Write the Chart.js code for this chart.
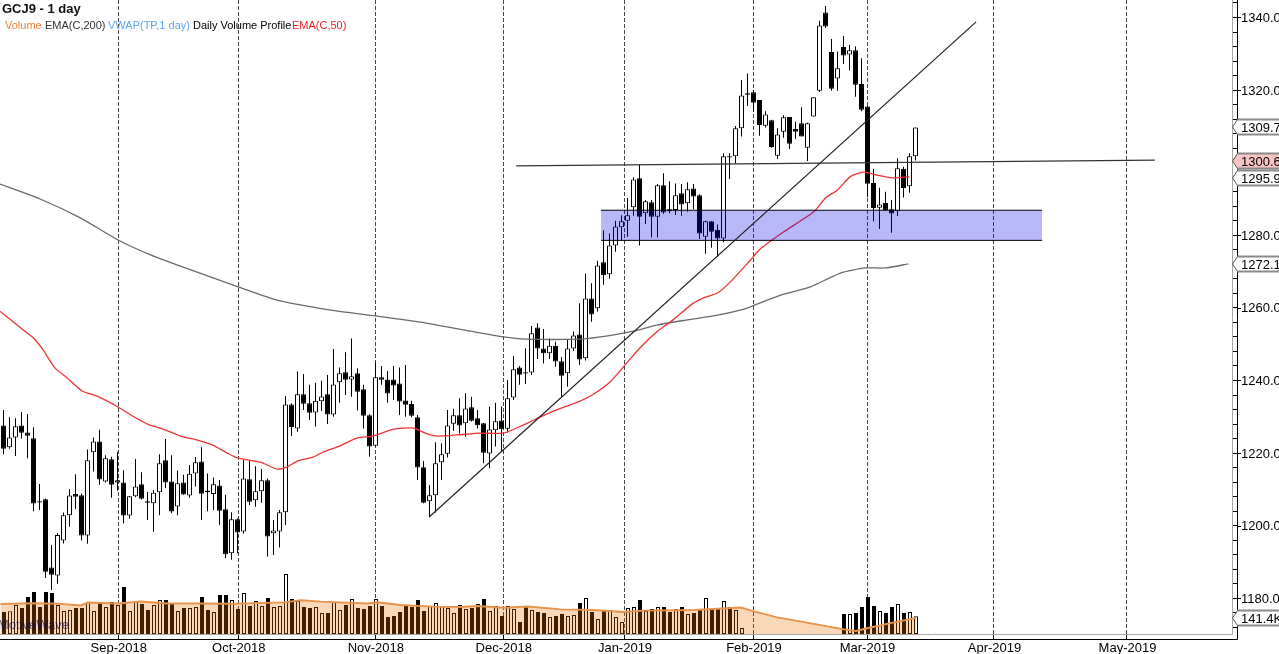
<!DOCTYPE html>
<html><head><meta charset="utf-8">
<style>html,body{margin:0;padding:0;background:#fff;overflow:hidden}canvas{display:block}</style>
<script src="https://cdn.jsdelivr.net/npm/chart.js@4"></script>
</head><body><canvas id="c" width="1279" height="654"></canvas>
<script>
const opens=[1227.6,1221.6,1224.3,1227.6,1225.7,1224.1,1206.7,1207.3,1188.5,1186.3,1195.9,1202.9,1208.7,1208.4,1197.3,1220.2,1223.2,1212.2,1218.3,1211.9,1211.9,1202.8,1208.1,1211.4,1206.7,1206.2,1209.2,1218,1212.2,1205.3,1211.9,1208.3,1214.4,1217.7,1209.7,1208.7,1211.1,1204.5,1192.4,1201.8,1198.4,1212.8,1207,1209.5,1212.5,1197.9,1198.4,1203.7,1233.4,1226.8,1236.2,1233.7,1231.2,1234.3,1236.2,1230.6,1239.5,1242.3,1240.3,1242,1237.6,1230.4,1222,1240.9,1240.3,1240.3,1239.2,1234.5,1233.5,1229.9,1216.1,1206.7,1208.4,1217.5,1219.8,1228.1,1230.4,1228.2,1232.6,1229.6,1228.2,1219.9,1226.3,1229,1226.7,1235.3,1243.6,1242.3,1242.2,1254.6,1248.8,1247.5,1249.6,1245.3,1242,1248.8,1252.7,1246.1,1262.6,1259.9,1272.6,1269.3,1277.2,1282.2,1284,1287.7,1295.7,1286.1,1289.1,1285.1,1293.8,1287.2,1287,1291.6,1288.8,1292.9,1291,1279.6,1283.9,1281.5,1279.1,1301.8,1301.8,1309.5,1319.1,1319.4,1317.3,1310.2,1311.7,1301.9,1308.5,1312.6,1309.3,1310.9,1304.1,1312.7,1319.8,1341.4,1330.5,1323.2,1331.9,1329.8,1331,1321.7,1315.5,1294.4,1287.6,1288.9,1287.2,1286.6,1298.3,1293.5,1301.8];
const highs=[1231.9,1229.9,1229.6,1231.3,1230.8,1227.1,1211.5,1207.5,1194.7,1198,1203.6,1210.1,1214.2,1208.9,1221,1224.3,1226.4,1219.4,1219,1220.4,1215.3,1208.2,1218.4,1214.7,1209.3,1209.8,1219.7,1223.9,1219.4,1215.2,1214,1216.7,1218.9,1221.6,1214.4,1213.3,1212.6,1208.5,1203.7,1202,1218.1,1217.9,1216.4,1215.6,1213,1201.6,1204.3,1235.7,1233.7,1242.5,1241.8,1238.8,1239.4,1239.9,1241.5,1248.7,1243.6,1247.8,1251.6,1243.4,1238.8,1230.7,1245,1244,1242.6,1244,1243.6,1244.3,1234.4,1230.5,1217.8,1211.2,1223,1222.7,1231.9,1232.2,1235.1,1236.5,1235.5,1231.9,1228.2,1232.8,1233.9,1232.8,1240.1,1246.8,1244,1248.9,1255,1255.8,1254.2,1251.6,1250.7,1246.5,1251.4,1253.5,1261.3,1269.5,1266.8,1273,1281.4,1280.5,1284,1285.5,1290.3,1296,1299.6,1289.7,1289.7,1294.1,1297.1,1294.9,1294.3,1294.1,1294.6,1294.1,1291.3,1284,1283.9,1283,1302.6,1302.6,1310.1,1322.8,1324.6,1320,1317.3,1314.2,1311.8,1309.5,1313.1,1312.6,1311.3,1315.3,1311,1318,1339.1,1343.2,1334.1,1330.6,1334.9,1332.4,1332.1,1328.8,1315.6,1298.3,1293.1,1292,1289.7,1301.2,1298.9,1302.6,1309.7];
const lows=[1219.7,1221.2,1219.2,1224,1218.6,1204,1204.3,1185.6,1182.3,1184,1195.1,1199.7,1204.6,1195.9,1195,1214.9,1211.3,1211.9,1207.7,1209.6,1200.6,1201.9,1207.8,1207.2,1201.6,1198.3,1202.9,1210.4,1203.4,1202.9,1208.5,1207.7,1210.8,1201.6,1204,1204.3,1200.2,1191,1190.6,1192.4,1197.8,1205.7,1205.2,1206.3,1191.5,1191.9,1194,1200.2,1224.7,1225.9,1231.9,1229.1,1227.3,1231.6,1228,1230,1233.9,1236,1235.5,1231.7,1226.8,1219,1221.8,1238.8,1233.9,1234.6,1230.5,1230,1229.9,1212.6,1206.2,1202.3,1203.6,1212.6,1218.8,1226.1,1225.4,1224.5,1228.7,1226.8,1217.2,1215.8,1221.8,1220.4,1225.6,1234.6,1238.8,1239,1241.5,1245.9,1244.7,1245.9,1243.8,1235.5,1238.3,1248.1,1244.3,1245.5,1256.2,1259,1266.4,1268,1275.5,1278.5,1279.6,1285.4,1277.2,1283.1,1279.4,1279.4,1285.9,1286.1,1285.6,1285.4,1286.5,1287.2,1279,1274.9,1276.6,1274.1,1278.1,1295.5,1299.8,1307.2,1315.6,1314.1,1307.4,1309.7,1304.1,1301,1306.9,1303.8,1306.5,1307.2,1300.5,1312.7,1319.5,1337.1,1319.8,1319.8,1327.2,1325.4,1318.2,1314.2,1290.5,1283.8,1281.7,1286.8,1280.7,1285.3,1290.4,1291.7,1300.6];
const closes=[1221.2,1224.3,1227.4,1225.6,1224.8,1206.1,1206.4,1187.3,1186.5,1197.4,1202.9,1208.3,1208,1197.3,1218,1223.2,1212.7,1218.6,1211.3,1212.5,1202.8,1208.1,1210.8,1207.4,1206.3,1209.1,1217.2,1211.9,1203.9,1211.7,1208.6,1214.3,1217.5,1208.8,1209.2,1211.4,1204.1,1192.1,1201.8,1198.1,1213,1206.6,1209.5,1212.5,1197,1198.7,1203.7,1233.4,1227.2,1236.2,1233.6,1231.1,1234.4,1235.6,1230.6,1238.9,1242,1240.2,1241.2,1236.9,1230.3,1221.8,1240.9,1240.2,1236.4,1238.6,1234.2,1233.3,1230.3,1216,1206.3,1208.4,1217.2,1219.7,1227.6,1230.4,1227.6,1232.3,1228.9,1227.7,1220.1,1226.5,1228.8,1226.6,1235.1,1243.1,1241.6,1241.9,1253,1248.8,1247.5,1249.6,1245.2,1241.3,1248.8,1252.4,1245.8,1262.6,1258.2,1271.7,1269,1277.2,1282.4,1283.9,1285.5,1295.4,1285.1,1289.4,1285.1,1293.8,1286.3,1286.6,1291,1288.5,1292.7,1290.7,1280.5,1283.9,1281,1279.1,1301.8,1301.4,1309.5,1318.5,1318.7,1316.5,1310.4,1313.3,1304.3,1307.8,1312.5,1305.2,1308.5,1307.2,1310.9,1318,1337.8,1337.5,1320.4,1326,1329.5,1331,1321.5,1314.6,1294.2,1287.5,1288.5,1287,1286,1298.5,1293,1301.8,1309.7];
const volumes=[176,182,232,208,296,336,216,336,328,232,184,192,208,208,256,184,248,216,256,232,376,184,256,240,192,232,272,272,248,184,208,208,216,296,192,176,312,312,272,200,328,224,264,224,288,216,224,480,280,264,216,208,216,168,168,256,192,232,280,208,200,224,280,224,136,144,176,232,216,272,184,224,248,224,208,168,232,200,208,240,280,184,224,144,224,200,96,224,192,176,168,136,144,160,144,152,248,288,176,120,184,192,136,96,208,216,272,184,200,216,216,176,200,216,160,168,192,288,192,200,264,216,192,48,null,null,null,null,null,null,null,null,null,null,null,null,null,null,null,null,160,160,168,216,296,224,184,168,216,240,168,176,141.4];
const ema50Bars=[-0.6,3.3,5,6.6,8.6,10.6,13.1,15.6,19.1,21.5,24,26.6,29.5,32.3,34.9,37.3,39.1,42.8,45.6,47.3,49,51.6,53.3,56.1,59,61.6,65,68.3,70.6,72.3,75.6,79.4,83.3,86.6,89.5,92.5,95.8,98.1,101.1,103.6,106.1,108.9,111.6,114.8,116.6,119,121.1,124.5,126.1,130,135,137,139,141.1,143.3,145.6,148.3,151];
const ema50Values=[1259.1,1253.9,1251.7,1248.4,1243.4,1240.7,1237.1,1235.7,1232.7,1230.2,1228,1226.6,1224.7,1223.6,1222.2,1220,1218.6,1217.5,1215.6,1216.2,1217.8,1218.9,1220.3,1222,1224.2,1224.7,1226.6,1226.9,1225.3,1224.7,1225,1225.5,1225.5,1227.7,1230,1232.1,1234.1,1236,1239.6,1244.3,1249,1253.4,1256.7,1261.1,1262.7,1264.1,1267.1,1273.2,1276.2,1280.9,1286.4,1290.3,1292.5,1296.1,1297.4,1296.6,1295.8,1296.1];
const ema200Bars=[-0.6,6.1,12.8,19.1,24.5,30.3,39.1,46.1,54.5,62,69.5,77.8,83.3,87,96.1,99.5,105,109,114,119,122.8,124.5,129.5,134.5,139.5,143.6,147,150.8];
const ema200Values=[1294.1,1290,1284.8,1278.7,1274.6,1271,1265.8,1261.9,1259.4,1257.8,1256.1,1253.6,1252,1251.4,1251.4,1252,1253.6,1255.3,1256.7,1258,1259.4,1260.3,1263.5,1265.8,1269.6,1271,1271,1272.1];
const volEmaBars=[-0.6,5,8.9,12.8,14,19,22.8,27.2,32.8,38.3,46.6,49.5,52.8,60.6,62.2,66.1,71.6,76.1,78.9,83.3,87.3,92.8,98.3,103.3,106.6,115,122.8,125,128.9,134.5,140,142,144,148.3,152];
const volEmaValues=[240,245,243,229,251,245,259,245,245,243,253,269,259,245,253,232,219,216,224,211,219,197,192,176,187,192,211,181,133,85,37,24,48,93,128];
const trendBars=[70.95,162.1];
const trendValues=[1202.4,1338.8];
const levelBars=[85.45,191.9];
const levelValues=[1299.1,1300.7];
const zoneBars=[99.6,173.1];
const zoneTop=1286.9;
const zoneBottom=1278.6;
const monthBars=[19.13,39.13,61.97,83.3,103.5,125,143.92,165.08,187.25];
const monthLabels=['Sep-2018','Oct-2018','Nov-2018','Dec-2018','Jan-2019','Feb-2019','Mar-2019','Apr-2019','May-2019'];
const priceTags=[['1309.7',1309.7,'#fff'],['1295.9',1295.9,'#fff'],['1272.1',1272.1,'#fff'],['1300.6',1300.6,'#f9c4c4']];
const volTag=['141.4K',1174.6,'#fff'];
const legendItems=[['Volume','#f0823c',5],['EMA(C,200)','#333',45],['VWAP(TP,1 day)','#5aa6f2',108],['Daily Volume Profile','#000',193],['EMA(C,50)','#f01e1e',292]];

const line=(xs,ys)=>xs.map((x,i)=>({x,y:ys[i]}));
const up=i=>closes[i]>=opens[i];
const isBlack=opens.map((o,i)=>!up(i));
const FONT='"Liberation Sans", Arial, sans-serif';

const overlay={id:'overlay',
 afterDatasetsDraw(ch){
  const c=ch.ctx;c.save();
  c.font='13px '+FONT;c.fillStyle='rgba(0,0,90,.6)';c.textBaseline='middle';c.textAlign='left';
  c.fillText('MotiveWave',-2,625);
  c.restore();
 },
 afterDraw(ch){
  const c=ch.ctx,y=ch.scales.y;const right=ch.chartArea.right,bottom=ch.chartArea.bottom;
  c.save();
  c.strokeStyle='#000';c.lineWidth=1;c.beginPath();
  c.moveTo(0,bottom+5.5);c.lineTo(right+5.5,bottom+5.5);
  c.moveTo(right+5.5,0);c.lineTo(right+5.5,bottom+5.5);
  y.ticks.forEach(t=>{if(t.value%20===0){const p=Math.round(y.getPixelForValue(t.value))+.5;c.moveTo(right+5,p);c.lineTo(right+9,p);}});
  c.stroke();
  const tag=(txt,py,fill)=>{
   const x=right+.5,h=7.5;
   c.beginPath();c.moveTo(x,py);c.lineTo(x+5,py-h);c.lineTo(1279,py-h);c.lineTo(1279,py+h);c.lineTo(x+5,py+h);c.closePath();
   c.fillStyle=fill;c.fill();
   c.strokeStyle='#555';c.lineWidth=1;c.beginPath();c.moveTo(x+5,py+h);c.lineTo(x,py);c.lineTo(x+5,py-h);c.stroke();
   c.strokeStyle='#8a8a8a';c.lineWidth=2;c.beginPath();c.moveTo(x+5,py-h);c.lineTo(1279,py-h);c.moveTo(x+5,py+h);c.lineTo(1279,py+h);c.stroke();
   c.fillStyle='#000';c.font='13px '+FONT;c.textAlign='left';c.textBaseline='middle';c.fillText(txt,right+9,py+1);
  };
  priceTags.forEach(t=>tag(t[0],Math.round(y.getPixelForValue(t[1])),t[2]));
  tag(volTag[0],Math.round(y.getPixelForValue(volTag[1])),volTag[2]);
  c.textBaseline='middle';c.textAlign='left';
  c.font='bold 13px '+FONT;c.fillStyle='#111';c.fillText('GCJ9 - 1 day',2,9);
  c.font='11px '+FONT;
  legendItems.forEach(l=>{c.fillStyle=l[1];c.fillText(l[0],l[2],25.5);});
  c.restore();
 }};

new Chart(document.getElementById('c'),{
 type:'bar',
 plugins:[overlay],
 data:{datasets:[
  {type:'line',order:1,data:line(trendBars,trendValues),borderColor:'#222',borderWidth:1.2,pointRadius:0},
  {type:'line',order:2,data:line(levelBars,levelValues),borderColor:'#333',borderWidth:1.2,pointRadius:0},
  {type:'line',order:3,data:line(zoneBars,[zoneTop,zoneTop]),borderColor:'#000',borderWidth:1,pointRadius:0},
  {type:'line',order:4,data:line(zoneBars,[zoneBottom,zoneBottom]),borderColor:'#000',borderWidth:1,pointRadius:0,fill:'-1',backgroundColor:'rgba(0,0,229,.28)'},
  {type:'line',order:5,data:line(ema50Bars,ema50Values),borderColor:'#f03232',borderWidth:1.3,pointRadius:0,tension:.2},
  {type:'line',order:6,data:line(ema200Bars,ema200Values),borderColor:'#6a6a6a',borderWidth:1.3,pointRadius:0,tension:.2},
  {type:'bar',order:7,grouped:false,barThickness:5,maxBarThickness:5,inflateAmount:0,borderSkipped:false,borderWidth:1,borderColor:'#000',
   backgroundColor:isBlack.map(b=>b?'#000':'#fff'),
   data:opens.map((o,i)=>({x:i,y:[o,closes[i]]}))},
  {type:'bar',order:8,grouped:false,barThickness:1,maxBarThickness:1,inflateAmount:0,borderWidth:0,backgroundColor:'#000',
   data:highs.map((h,i)=>({x:i,y:[lows[i],h]}))},
  {type:'line',order:9,xAxisID:'x2',yAxisID:'y2',data:line(volEmaBars,volEmaValues),borderColor:'#e9934a',borderWidth:2,pointRadius:0,fill:'origin',backgroundColor:'rgba(229,115,0,.28)'},
  {type:'bar',order:10,xAxisID:'x2',yAxisID:'y2',grouped:false,barThickness:4,maxBarThickness:4,inflateAmount:0,borderWidth:1,borderSkipped:false,borderColor:'#000',
   backgroundColor:isBlack.map(b=>b?'#000':'#fff'),
   data:volumes.map((v,i)=>({x:i,y:v}))}
 ]},
 options:{
  responsive:false,animation:false,devicePixelRatio:1,
  layout:{padding:0},
  plugins:{legend:{display:false},tooltip:{enabled:false},title:{display:false}},
  scales:{
   x:{type:'linear',position:'bottom',min:-0.58333,max:204.75,offset:false,
    afterBuildTicks(s){s.ticks=monthBars.map(v=>({value:v}));},
    afterFit(s){s.height=20;s.paddingLeft=0;s.paddingRight=0;},
    grid:{color:'#444',tickColor:'#000',tickLength:5,offset:false},
    border:{color:'#a9a99f',dash:[4,2],width:1},
    ticks:{autoSkip:false,maxRotation:0,padding:2,labelOffset:0.5,color:'#000',font:{family:FONT,size:13},
     callback(v){const i=monthBars.indexOf(v);return i>=0?monthLabels[i]:'';}}},
   y:{type:'linear',position:'right',min:1170.16,max:1344.82,
    afterBuildTicks(s){const t=[];for(let v=1172;v<=1344;v+=4)t.push({value:v});s.ticks=t;},
    afterFit(s){s.width=47;s.paddingTop=0;s.paddingBottom=0;},
    grid:{drawOnChartArea:false,tickColor:'#000',tickLength:5},
    border:{color:'#a9a99f',width:1},
    ticks:{autoSkip:false,padding:4,labelOffset:1,color:'#000',font:{family:FONT,size:13},
     callback(v){return v%20===0?v.toFixed(1):'';}}},
   x2:{type:'linear',display:false,min:-0.66667,max:204.66667,offset:false},
   y2:{type:'linear',display:false,min:0,max:5072}
  }
 }
});
</script></body></html>
